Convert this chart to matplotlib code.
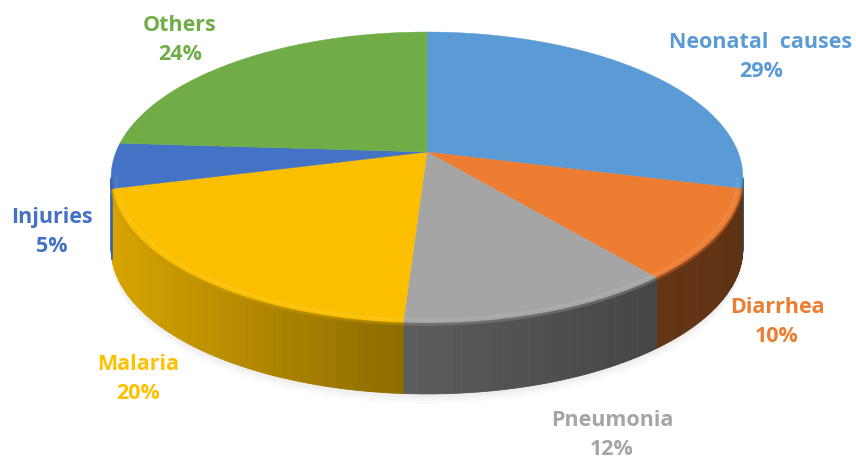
import matplotlib.pyplot as plt
import numpy as np
from matplotlib.collections import PolyCollection
from matplotlib.colors import to_rgb

# Data
causes = ["Neonatal  causes", "Diarrhea", "Pneumonia", "Malaria", "Injuries", "Others"]
shares = [29, 10, 12, 20, 5, 24]
colors = ["#5b9bd5", "#ed7d31", "#a5a5a5", "#fbbf00", "#4472c4", "#70ad47"]
label_colors = ["#5b9bd5", "#ed7d31", "#a5a5a5", "#ffc000", "#4472c4", "#70ad47"]

# Layout of the tilted pie (pixel space)
CX, CY = 427, 152
A, B, K = 311, 141, 0.175
DEPTH = 71
label_pos = [(761, 57), (777, 322), (612, 435), (138, 379), (52, 232), (180, 40)]


def proj(phi_deg, r=1.0):
    phi = np.radians(phi_deg)
    u, v = r * np.sin(phi), r * np.cos(phi)
    w = 1 + K * v
    return CX + A * u / w, CY - B * v / w


def shade(col, f):
    return tuple(np.clip(np.array(to_rgb(col)) * f, 0, 1))


def lighten(col, f):
    c = np.array(to_rgb(col))
    return tuple(c + (1 - c) * f)


fig = plt.figure(figsize=(8.56, 4.61), dpi=100)
ax = fig.add_axes([0, 0, 1, 1])
ax.set_xlim(0, 856)
ax.set_ylim(461, 0)
ax.axis("off")

bounds = np.concatenate([[0], np.cumsum(shares)]) / sum(shares) * 360

# visible front arc of the rim
dense = np.linspace(0, 360, 3601)
dx, _ = proj(dense)
phi_right = dense[np.argmax(dx)]
phi_left = dense[np.argmin(dx)]

# soft shadow
for off, al in [(10, 0.03), (7, 0.04), (4, 0.05)]:
    sx, sy = proj(dense)
    ax.fill(sx, sy + DEPTH + off, color="#808080", alpha=al, lw=0)

# side walls
lx = [110, 400, 650, 745]
lf = [0.86, 0.56, 0.42, 0.40]
quads, qcols = [], []
for i in range(len(shares)):
    a0 = max(bounds[i], phi_right)
    a1 = min(bounds[i + 1], phi_left)
    if a1 <= a0:
        continue
    ph = np.linspace(a0, a1, max(int((a1 - a0) * 2), 2))
    px, py = proj(ph)
    for j in range(len(ph) - 1):
        q = [(px[j], py[j]), (px[j + 1], py[j + 1]),
             (px[j + 1], py[j + 1] + DEPTH), (px[j], py[j] + DEPTH)]
        quads.append(q)
        qcols.append(shade(colors[i], np.interp((px[j] + px[j + 1]) / 2, lx, lf)))
ax.add_collection(PolyCollection(quads, facecolors=qcols, edgecolors=qcols, linewidths=0.6))

# top faces
for i in range(len(shares)):
    ph = np.linspace(bounds[i], bounds[i + 1], 200)
    px, py = proj(ph)
    ax.fill(np.r_[CX, px], np.r_[CY, py], color=colors[i], lw=0.3, ec=colors[i])

# bevel along the front edge
for i in range(len(shares)):
    a0 = max(bounds[i], phi_right)
    a1 = min(bounds[i + 1], phi_left)
    if a1 <= a0:
        continue
    ph = np.linspace(a0, a1, 200)
    hx, hy = proj(ph, 0.985)
    ax.plot(hx, hy, color=lighten(colors[i], 0.15), lw=2.0, alpha=0.55, solid_capstyle="butt")
    ex, ey = proj(ph, 1.0)
    ax.plot(ex, ey + 1.5, color=shade(colors[i], 0.8), lw=2, alpha=0.5, solid_capstyle="butt")

# labels
for name, pct, pos, c in zip(causes, shares, label_pos, label_colors):
    ax.text(pos[0], pos[1], f"{name}\n{pct}%", color=c, fontsize=15.5, fontweight="bold",
            family="Open Sans", ha="center", va="center", linespacing=1.5)

fig.savefig("out.png", dpi=100)
